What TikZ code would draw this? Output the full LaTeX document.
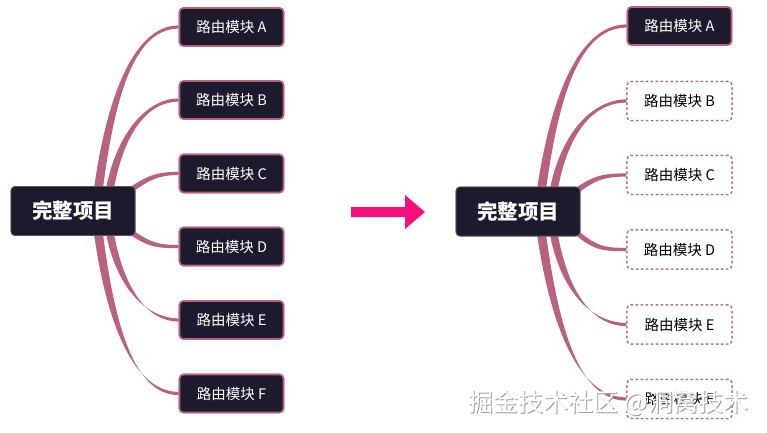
\documentclass[tikz,border=0pt]{standalone}
\usepackage{fontspec}
\setmainfont{Noto Sans CJK SC}
\usetikzlibrary{calc}
\definecolor{navy}{HTML}{1E1A2D}
\definecolor{rose}{HTML}{B8627F}
\definecolor{hot}{HTML}{F5107A}
\tikzset{
  rootbox/.style={draw=gray!60!navy, line width=0.8pt, fill=navy, rounded corners=4pt, text=white, font=\fontsize{20.5}{24}\selectfont\bfseries, inner sep=0pt, minimum width=124pt, minimum height=49pt},
  childbox/.style={draw=rose, line width=1.6pt, fill=navy, rounded corners=4pt, text=white, font=\fontsize{14.5}{17}\selectfont, inner sep=0pt, minimum width=104pt, minimum height=38pt},
  ghostbox/.style={draw=rose, line width=1.3pt, dash pattern=on 2.5pt off 2.5pt, fill=white, rounded corners=4pt, text=black, font=\fontsize{14.5}{17}\selectfont, inner sep=0pt, minimum width=105pt, minimum height=39pt},
  conn/.style={fill=rose},
  wmark/.style={font=\fontsize{25}{28}\selectfont},
}
\newcommand{\branch}[5]{% root point, end node, c1, c2, half width at root
  \fill[conn] ($#1+(-#5,0)$) .. controls ($#3+(-#5,0)$) and ($#4+(0,-1.6)$) .. ($(#2.west)+(0,-1.6)$)
     -- ($(#2.west)+(0,1.6)$) .. controls ($#4+(0,1.6)$) and ($#3+(#5,0)$) .. ($#1+(#5,0)$) -- cycle;}
\newcommand{\sidebranch}[4]{% start, end node, c1, c2
  \fill[conn] ($#1+(0,-3.5)$) .. controls ($#3+(0,-2.5)$) and ($#4+(0,-1.6)$) .. ($(#2.west)+(0,-1.6)$)
     -- ($(#2.west)+(0,1.6)$) .. controls ($#4+(0,1.6)$) and ($#3+(0,2.5)$) .. ($#1+(0,3.5)$) -- cycle;}
\begin{document}
\begin{tikzpicture}[x=1pt,y=-1pt]
\useasboundingbox (0,0) rectangle (767,432);
% ---------- left ----------
\node[rootbox] (L) at (73,211) {完整项目};
\node[childbox] (LA) at (231.5,27) {路由模块 A};
\node[childbox] (LB) at (231.5,100) {路由模块 B};
\node[childbox] (LC) at (231.5,173.5) {路由模块 C};
\node[childbox] (LD) at (231.5,246.5) {路由模块 D};
\node[childbox] (LE) at (231.5,320) {路由模块 E};
\node[childbox] (LF) at (231.5,393.5) {路由模块 F};
% connectors (drawn, then nodes redrawn on top)
\branch{(97,200)}{LA}{(108,110)}{(130,27)}{4.5}
\branch{(108,200)}{LB}{(118,132)}{(148,100)}{4}
\sidebranch{(128,192)}{LC}{(150,176)}{(160,173.5)}
\sidebranch{(128,230)}{LD}{(150,246)}{(160,246.5)}
\branch{(108,222)}{LE}{(118,290)}{(148,320)}{4}
\branch{(97,222)}{LF}{(108,312)}{(130,393.5)}{4.5}
\node[rootbox] at (L) {完整项目};
\foreach \n/\t in {LA/A,LB/B,LC/C,LD/D,LE/E,LF/F}{\node[childbox] at (\n) {路由模块 \t};}
% ---------- arrow ----------
\coordinate (ta) at (351,212);
\coordinate (tb) at (425,212);
\fill[hot] ($(ta)+(0,-5)$) -- ($(ta)+(54,-5)$) -- ($(ta)+(54,-17)$) -- (tb) -- ($(ta)+(54,17)$) -- ($(ta)+(54,5)$) -- ($(ta)+(0,5)$) -- cycle;
% ---------- right ----------
\node[rootbox] (R) at (518,211.5) {完整项目};
\node[childbox] (RA) at (679.5,26) {路由模块 A};
\node[ghostbox] (RB) at (679.5,101) {路由模块 B};
\node[ghostbox] (RC) at (679.5,175) {路由模块 C};
\node[ghostbox] (RD) at (679.5,249.5) {路由模块 D};
\node[ghostbox] (RE) at (679.5,324.5) {路由模块 E};
\node[ghostbox] (RF) at (679.5,399) {路由模块 F};
\branch{(540,200)}{RA}{(552,110)}{(575,26)}{4.5}
\branch{(552,200)}{RB}{(562,133)}{(593,101)}{4}
\sidebranch{(575,192)}{RC}{(595,177)}{(605,175)}
\sidebranch{(575,231)}{RD}{(595,249)}{(605,249.5)}
\branch{(552,223)}{RE}{(562,293)}{(593,324.5)}{4}
\branch{(540,223)}{RF}{(552,315)}{(575,399)}{4.5}
\node[rootbox] at (R) {完整项目};
\node[childbox] at (RA) {路由模块 A};
\foreach \n/\t in {RB/B,RC/C,RD/D,RE/E,RF/F}{\node[ghostbox] at (\n) {路由模块 \t};}
% ---------- watermark ----------
\node[wmark, text=gray!75] (wm0) at (609.5,404.5) {掘金技术社区 @洞窝技术};
\node[wmark, text=white] (wm) at (608.5,403.5) {掘金技术社区 @洞窝技术};
\end{tikzpicture}
\end{document}
